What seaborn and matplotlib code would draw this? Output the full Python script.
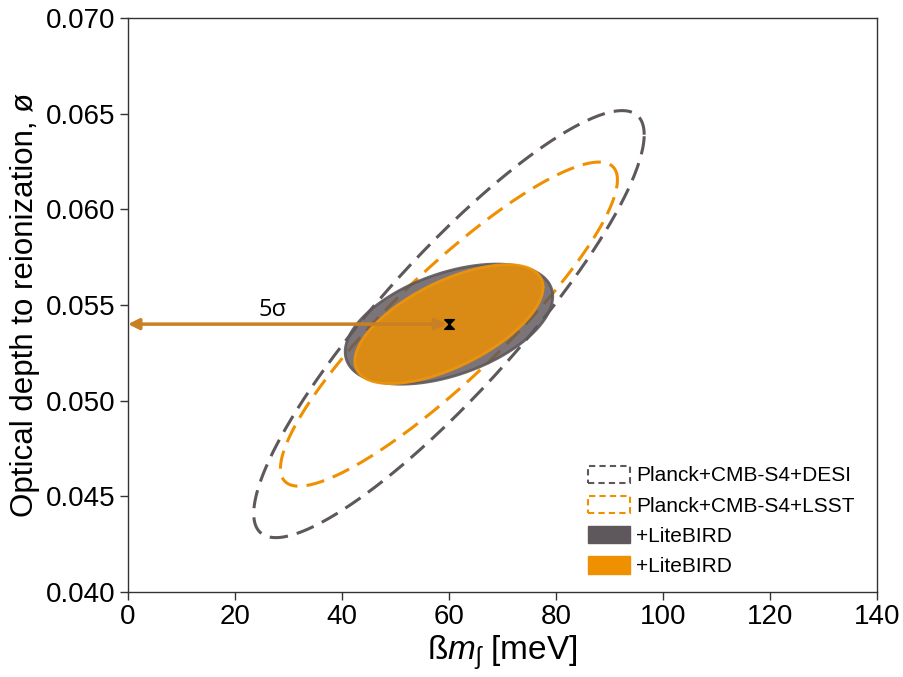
import numpy as np
import matplotlib
matplotlib.use("Agg")
import matplotlib.pyplot as plt
from matplotlib.patches import Patch
from matplotlib.path import Path
import seaborn as sns

# Forecast ellipses: centre, half-extent along each axis, correlation
labels = ["Planck+CMB-S4+DESI", "Planck+CMB-S4+LSST", "+LiteBIRD", "+LiteBIRD"]
center_x = [60.0, 60.0, 60.0, 60.0]
center_y = [0.0540, 0.0540, 0.0540, 0.0540]
half_x = [36.5, 31.5, 19.4, 17.6]
half_y = [0.01116, 0.00847, 0.00314, 0.00311]
corr = [0.887, 0.89, 0.46, 0.62]
filled = [False, False, True, True]

fiducial_x = 60.0
fiducial_y = 0.054
arrow_label = "5σ"

GRAY = "#5e575b"
ORANGE = "#ef9000"
colors = [GRAY, ORANGE, GRAY, ORANGE]

sns.set_style("ticks")
plt.rcParams["font.family"] = ["Liberation Sans", "DejaVu Sans"]
plt.rcParams["mathtext.fontset"] = "custom"
plt.rcParams["mathtext.it"] = "Liberation Sans:italic"
plt.rcParams["mathtext.rm"] = "Liberation Sans"
plt.rcParams["text.color"] = "black"
plt.rcParams["axes.labelcolor"] = "black"
plt.rcParams["xtick.color"] = "black"
plt.rcParams["ytick.color"] = "black"

fig = plt.figure(figsize=(9.04, 6.77), dpi=100)
ax = fig.add_axes([0.1416, 0.1256, 0.8284, 0.8478])

t = np.linspace(0, 2 * np.pi, 400)
for i in range(len(labels)):
    r = corr[i]
    ex = center_x[i] + half_x[i] * np.cos(t)
    ey = center_y[i] + half_y[i] * (r * np.cos(t) + np.sqrt(1 - r ** 2) * np.sin(t))
    if filled[i]:
        edge = "#f0950a" if colors[i] == ORANGE else GRAY
        ax.fill(ex, ey, color=colors[i], alpha=0.82, lw=0, zorder=3)
        ax.plot(ex, ey, color=edge, lw=2, alpha=0.9, zorder=3)
    else:
        sns.lineplot(x=ex, y=ey, sort=False, estimator=None, errorbar=None,
                     color=colors[i], lw=2.2, ax=ax, zorder=2)
        ax.lines[-1].set_linestyle((0, (6, 3)))

# 5 sigma arrow from zero mass to the fiducial
ax.annotate("", xy=(0, fiducial_y), xytext=(fiducial_x - 0.5, fiducial_y),
            arrowprops=dict(arrowstyle="<|-|>", color="#c97f24", lw=2.5,
                            mutation_scale=16, shrinkA=0, shrinkB=0), zorder=5)
ax.text(27, fiducial_y + 0.0001, arrow_label, fontsize=17, ha="center", va="bottom",
        family=["Open Sans", "DejaVu Sans"], zorder=5)

hourglass = Path([(-1, 1), (1, 1), (-1, -1), (1, -1), (-1, 1)])
ax.plot([fiducial_x], [fiducial_y], marker=hourglass, color="black",
        markersize=7, ls="none", zorder=6)

ax.set_xlim(0, 140)
ax.set_ylim(0.040, 0.070)
ax.set_xticks(np.arange(0, 141, 20))
ax.set_yticks(np.arange(0.040, 0.0701, 0.005))
ax.set_yticklabels([f"{v:.3f}" for v in np.arange(0.040, 0.0701, 0.005)])
ax.tick_params(labelsize=20, direction="out", length=6, width=1, color="#333333", pad=3)
for s in ax.spines.values():
    s.set_color("#333333")
    s.set_linewidth(1)

ax.set_xlabel("ß$m_{\\mathrm{ʃ}}$ [meV]", fontsize=24, labelpad=2)
ax.set_ylabel("Optical depth to reionization, ø", fontsize=22.5, labelpad=4)

handles = [
    Patch(facecolor="white", edgecolor=GRAY, linestyle=(0, (3, 2)), lw=1.5),
    Patch(facecolor="white", edgecolor=ORANGE, linestyle=(0, (3, 2)), lw=1.5),
    Patch(facecolor=GRAY, edgecolor=GRAY),
    Patch(facecolor=ORANGE, edgecolor=ORANGE),
]
ax.legend(handles, labels, loc="lower right", frameon=False, fontsize=15,
          handlelength=2.0, handleheight=0.9, handletextpad=0.3,
          labelspacing=0.5, bbox_to_anchor=(0.995, -0.005))

fig.savefig("out.png", dpi=100)
